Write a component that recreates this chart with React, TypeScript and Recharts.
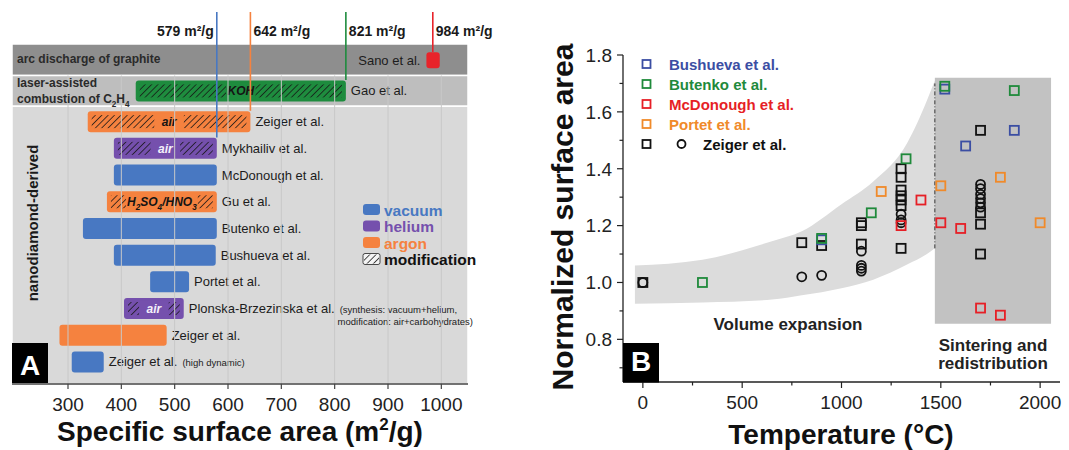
import React from 'react';
import { ComposedChart, Bar, Scatter, Area, XAxis, YAxis, ReferenceArea, ReferenceLine } from 'recharts';

const FONT = '"Liberation Sans", Arial, Helvetica, sans-serif';

// ---------- panel A: specific surface area per synthesis route ----------
const rowNames = [
  'Sano et al.',
  'Gao et al.',
  'Zeiger et al.',
  'Mykhailiv et al.',
  'McDonough et al.',
  'Gu et al.',
  'Butenko et al.',
  'Bushueva et al.',
  'Portet et al.',
  'Plonska-Brzezinska et al.',
  'Zeiger et al.',
  'Zeiger et al.',
];
const rowGroup = [0, 1, 2, 2, 2, 2, 2, 2, 2, 2, 2, 2];
const rowAtmos = ['arc', 'laser', 'argon', 'helium', 'vacuum', 'argon', 'vacuum', 'vacuum', 'vacuum', 'helium', 'argon', 'vacuum'];
const rowMin = [972, 427, 337, 386, 386, 373, 328, 386, 454, 405, 284, 307];
const rowMax = [997, 821, 642, 579, 579, 579, 579, 577, 527, 517, 485, 367];
const rowMod = ['', 'KOH', 'air', 'air', '', 'H2SO4/HNO3', '', '', '', 'air', '', ''];
const rowNote = ['', '', '', '', '', '', '', '', '', '(synthesis: vacuum+helium,|modification: air+carbohydrates)', '', '(high dynamic)'];

const groupNames = ['arc discharge of graphite', 'laser-assisted|combustion of C2H4', 'nanodiamond-derived'];

const maxValues = [579, 642, 821, 984];
const maxRows = [3, 2, 1, 0];
const maxAtmos = ['vacuum', 'argon', 'laser', 'arc'];

const areaTicks = [300, 400, 500, 600, 700, 800, 900, 1000];
const legendA = ['vacuum', 'helium', 'argon'];

// ---------- panel B: normalized surface area vs temperature ----------
const bushuevaT = [900, 1520, 1625, 1870];
const bushuevaS = [1.15, 1.68, 1.48, 1.535];
const butenkoT = [300, 900, 1150, 1325, 1520, 1870];
const butenkoS = [1.0, 1.155, 1.245, 1.435, 1.69, 1.675];
const mcdonoughT = [1300, 1400, 1500, 1600, 1700, 1800];
const mcdonoughS = [1.2, 1.29, 1.21, 1.19, 0.91, 0.885];
const portetT = [1200, 1500, 1800, 2000];
const portetS = [1.32, 1.34, 1.37, 1.21];
const zeigerSqT = [0, 800, 900, 1100, 1100, 1100, 1300, 1300, 1300, 1300, 1300, 1300, 1300, 1700, 1700, 1700, 1700];
const zeigerSqS = [1.0, 1.14, 1.13, 1.21, 1.2, 1.135, 1.4, 1.37, 1.325, 1.305, 1.29, 1.27, 1.12, 1.535, 1.245, 1.205, 1.1];
const zeigerCiT = [0, 800, 900, 1100, 1100, 1100, 1100, 1300, 1300, 1300, 1700, 1700, 1700, 1700, 1700, 1700];
const zeigerCiS = [1.0, 1.02, 1.025, 1.11, 1.06, 1.05, 1.04, 1.24, 1.22, 1.21, 1.345, 1.33, 1.31, 1.295, 1.28, 1.265];

const bandT = [-40, 300, 650, 800, 1000, 1160, 1330, 1430, 1470];
const bandLow = [0.925, 0.93, 0.94, 0.955, 0.98, 1.01, 1.063, 1.1, 1.12];
const bandHigh = [1.06, 1.08, 1.145, 1.18, 1.275, 1.355, 1.49, 1.64, 1.71];

const tempTicks = [0, 250, 500, 750, 1000, 1250, 1500, 1750, 2000];
const ssaTicks = [0.7, 0.8, 0.9, 1.0, 1.1, 1.2, 1.3, 1.4, 1.5, 1.6, 1.7, 1.8];

const atmosColor: Record<string, string> = {
  vacuum: '#4878c2',
  helium: '#7550ad',
  argon: '#f5823f',
  laser: '#1e8c3e',
  arc: '#e8232a',
};

const GROUP_GAP = 0.15;
const Y_MIN = -1.8;
const Y_MAX = 12.13;

const rows = rowNames.map((name, i) => ({
  name,
  pos: i + rowGroup[i] * GROUP_GAP,
  range: [rowMin[i], rowMax[i]],
  atmos: rowAtmos[i],
  mod: rowMod[i],
  note: rowNote[i],
}));

const bands = groupNames.map((g, gi) => {
  const members = rows.filter((r, i) => rowGroup[i] === gi);
  const first = members[0].pos;
  const last = members[members.length - 1].pos;
  const prev = gi > 0 ? rows.filter((r, i) => rowGroup[i] === gi - 1) : [];
  const next = rows.filter((r, i) => rowGroup[i] === gi + 1);
  const y1 = prev.length ? (prev[prev.length - 1].pos + first) / 2 : first - 0.6;
  const y2 = next.length ? (last + next[0].pos) / 2 : Y_MAX;
  return { y1, y2 };
});
const bandFill = ['#8e8e8e', '#bebebe', '#d9d9d9'];

const series = [
  { name: 'Bushueva et al.', color: '#3b4ea3', t: bushuevaT, s: bushuevaS, marker: 'square' },
  { name: 'Butenko et al.', color: '#1f8a3b', t: butenkoT, s: butenkoS, marker: 'square' },
  { name: 'McDonough et al.', color: '#e61f26', t: mcdonoughT, s: mcdonoughS, marker: 'square' },
  { name: 'Portet et al.', color: '#f08a2a', t: portetT, s: portetS, marker: 'square' },
  { name: 'Zeiger et al.', color: '#111111', t: zeigerSqT, s: zeigerSqS, marker: 'square' },
  { name: 'Zeiger et al.', color: '#111111', t: zeigerCiT, s: zeigerCiS, marker: 'circle' },
];
const drawOrder = [4, 5, 0, 1, 2, 3];

const bandData = bandT.map((x, i) => ({ x, band: [bandLow[i], bandHigh[i]] }));

// subscripts for chemical formulas
const chem = (s: string, size: number) => {
  const out: any[] = [];
  let sub = false;
  s.split('').forEach((ch, i) => {
    const d = /[0-9]/.test(ch);
    if (d && !sub) {
      out.push(<tspan key={i} dy={size * 0.3} fontSize={size * 0.68}>{ch}</tspan>);
      sub = true;
    } else if (d) {
      out.push(<tspan key={i} fontSize={size * 0.68}>{ch}</tspan>);
    } else if (sub) {
      out.push(<tspan key={i} dy={-size * 0.3}>{ch}</tspan>);
      sub = false;
    } else {
      out.push(<tspan key={i}>{ch}</tspan>);
    }
  });
  return out;
};

const RowShape = (props: any) => {
  const { x, y, width, height, payload } = props;
  const color = atmosColor[payload.atmos];
  const cy = y + height / 2;
  const h = payload.atmos === 'arc' ? 16 : height;
  const top = cy - h / 2;
  const cx = x + width / 2;
  const lw = payload.mod.replace(/[0-9]/g, '').length * 7.2 + payload.mod.replace(/[^0-9]/g, '').length * 4.5 + 8;
  const notes = payload.note ? payload.note.split('|') : [];
  const leftLabel = payload.atmos === 'arc';
  return (
    <g>
      <rect x={x} y={top} width={width} height={h} rx={3} fill={color} />
      {payload.mod && (
        <g>
          <rect x={x + 4} y={top + 4} width={width - 8} height={h - 8} fill="url(#hatchA)" />
          <rect x={cx - lw / 2} y={top + 2} width={lw} height={h - 4} fill={color} />
          <text x={cx} y={cy + 4.5} textAnchor="middle" fontSize={12} fontWeight="bold" fontStyle="italic"
            fill={payload.atmos === 'helium' ? '#f4f0fa' : '#141414'} fontFamily={FONT}>
            {chem(payload.mod, 12)}
          </text>
        </g>
      )}
      <text x={leftLabel ? x - 6 : x + width + 5} y={cy + 4.5} textAnchor={leftLabel ? 'end' : 'start'}
        fontSize={13} fill="#1c1c1c" fontFamily={FONT}>
        {payload.name}
        {notes[0] && <tspan dx={5} fontSize={9.5}>{notes[0]}</tspan>}
      </text>
      {notes[1] && (
        <text x={473} y={cy + 16} textAnchor="end" fontSize={9.5} fill="#1c1c1c" fontFamily={FONT}>{notes[1]}</text>
      )}
    </g>
  );
};

const MaxLabel = (props: any) => {
  const { viewBox, value, left } = props;
  const x = viewBox.x;
  const y = viewBox.y + 24;
  return (
    <text x={left ? x - 3 : x + 3} y={y} textAnchor={left ? 'end' : 'start'} fontSize={14} fontWeight="bold"
      fill="#1a1a1a" fontFamily={FONT}>
      {value + ' m²/g'}
    </text>
  );
};

const TempTick = (props: any) => {
  const { x, y, payload } = props;
  const major = payload.value % 500 === 0;
  const axisY = y - 13.5;
  return (
    <g>
      <line x1={x} x2={x} y1={axisY} y2={axisY + (major ? 6 : 3.5)} stroke="#222" strokeWidth={1.2} />
      {major && (
        <text x={x} y={axisY + 27} textAnchor="middle" fontSize={19} fill="#222" fontFamily={FONT}>{payload.value}</text>
      )}
    </g>
  );
};

const SsaTick = (props: any) => {
  const { x, y, payload } = props;
  const major = Math.round(payload.value * 10) % 2 === 0;
  const axisX = x + 11;
  return (
    <g>
      <line x1={axisX - (major ? 6 : 3.5)} x2={axisX} y1={y} y2={y} stroke="#222" strokeWidth={1.2} />
      {major && (
        <text x={axisX - 11} y={y + 6.8} textAnchor="end" fontSize={19} fill="#222" fontFamily={FONT}>
          {payload.value.toFixed(1)}
        </text>
      )}
    </g>
  );
};

const marker = (color: string, kind: string) => (p: any) =>
  kind === 'circle' ? (
    <circle cx={p.cx} cy={p.cy} r={4.5} fill="none" stroke={color} strokeWidth={1.8} />
  ) : (
    <rect x={p.cx - 4.5} y={p.cy - 4.5} width={9} height={9} fill="none" stroke={color} strokeWidth={1.8} />
  );

const PanelA = () => (
  <ComposedChart width={500} height={450} layout="vertical" data={rows} style={{ overflow: 'visible' }}
    margin={{ top: 12, right: 32, left: 12, bottom: 6 }}>
    <XAxis type="number" domain={[195, 1050]} ticks={areaTicks} height={60} tickSize={5} tickMargin={9}
      axisLine={{ stroke: '#444', strokeWidth: 1.5 }} tickLine={{ stroke: '#444', strokeWidth: 1.2 }}
      tick={{ fontSize: 19, fill: '#222', fontFamily: FONT }} />
    <YAxis type="number" dataKey="pos" domain={[Y_MIN, Y_MAX]} hide ticks={[0, 4, 8, 12]} />
    {bands.map((b, i) => (
      <ReferenceArea key={'band' + i} y1={b.y1} y2={b.y2} fill={bandFill[i]} fillOpacity={1} stroke="#ffffff" strokeWidth={1.5} />
    ))}
    {areaTicks.map((t) => (
      <ReferenceLine key={'grid' + t} segment={[{ x: t, y: bands[1].y1 }, { x: t, y: Y_MAX }]} stroke="#c8c8c8" strokeWidth={1} />
    ))}
    <Bar dataKey="range" barSize={21} isAnimationActive={false} shape={(p: any) => <RowShape {...p} />} />
    {maxValues.map((v, i) => (
      <ReferenceLine key={'max' + v} ifOverflow="visible"
        segment={[{ x: v, y: Y_MIN }, { x: v, y: rows[maxRows[i]].pos - (maxRows[i] === 0 ? 0.3 : 0.4) }]}
        stroke={atmosColor[maxAtmos[i]]} strokeWidth={1.6}
        label={(p: any) => <MaxLabel {...p} value={v} left={i === 0} />} />
    ))}
  </ComposedChart>
);

const PanelB = () => (
  <ComposedChart width={529} height={450} margin={{ top: 55, right: 9, left: 0, bottom: 8 }}>
    <XAxis type="number" dataKey="x" domain={[-100, 2100]} ticks={tempTicks} height={60} tickSize={6} tickMargin={7.5}
      axisLine={{ stroke: '#222', strokeWidth: 1.3 }} tickLine={false} tick={(p: any) => <TempTick {...p} />} allowDataOverflow />
    <YAxis type="number" dataKey="y" domain={[0.65, 1.8]} ticks={ssaTicks} width={83} tickSize={6} tickMargin={5}
      axisLine={{ stroke: '#222', strokeWidth: 1.3 }} tickLine={false} tick={(p: any) => <SsaTick {...p} />} allowDataOverflow />
    <Area data={bandData} dataKey="band" type="monotone" stroke="none" fill="#dcdcdc" fillOpacity={1}
      isAnimationActive={false} dot={false} activeDot={false} />
    <ReferenceArea x1={1470} x2={2055} y1={0.855} y2={1.72} fill="#c2c2c2" fillOpacity={1} stroke="none" />
    <ReferenceLine segment={[{ x: 1470, y: 1.12 }, { x: 1470, y: 1.7 }]} stroke="#333" strokeWidth={1}
      strokeDasharray="4 2 1 2" />
    {drawOrder.map((si) => {
      const s = series[si];
      return (
        <Scatter key={'s' + si} data={s.t.map((t, i) => ({ x: t, y: s.s[i] }))} isAnimationActive={false}
          shape={marker(s.color, s.marker)} />
      );
    })}
  </ComposedChart>
);

const Overlay = () => (
  <svg width={1069} height={450} style={{ position: 'absolute', left: 0, top: 0, pointerEvents: 'none' }}
    fontFamily={FONT}>
    <defs>
      <pattern id="hatchA" width={4.5} height={4.5} patternUnits="userSpaceOnUse" patternTransform="rotate(45)">
        <line x1={0} y1={0} x2={0} y2={4.5} stroke="#151515" strokeWidth={1.5} />
      </pattern>
    </defs>

    {/* panel A group names */}
    <text x={17} y={63} fontSize={12} fontWeight="bold" fill="#2a2a2a">{groupNames[0]}</text>
    <text x={17} y={87} fontSize={12} fontWeight="bold" fill="#2a2a2a">{groupNames[1].split('|')[0]}</text>
    <text x={17} y={103} fontSize={12} fontWeight="bold" fill="#2a2a2a">{chem(groupNames[1].split('|')[1], 12)}</text>
    <text x={38} y={223} fontSize={15} fontWeight="bold" fill="#1a1a1a" textAnchor="middle"
      transform="rotate(-90 38 223)">{groupNames[2]}</text>

    {/* panel A legend */}
    {legendA.map((k, i) => (
      <g key={k}>
        <rect x={363} y={204 + i * 16.5} width={17} height={11} rx={3} fill={atmosColor[k]} />
        <text x={384} y={215.5 + i * 16.5} fontSize={15.5} fontWeight="bold" fill={atmosColor[k]}>{k}</text>
      </g>
    ))}
    <rect x={363} y={253.5} width={17} height={11} rx={2} fill="#f4f4f4" stroke="#222" strokeWidth={0.8} />
    <rect x={364} y={254.5} width={15} height={9} fill="url(#hatchA)" />
    <text x={384} y={265} fontSize={15.5} fontWeight="bold" fill="#111">modification</text>

    <rect x={12} y={343} width={36} height={40} fill="#000" />
    <text x={30} y={375} fontSize={28} fontWeight="bold" fill="#fff" textAnchor="middle">A</text>
    <text x={240} y={441} fontSize={28} fontWeight="bold" fill="#111" textAnchor="middle">
      Specific surface area (m<tspan dy={-11} fontSize={17}>2</tspan><tspan dy={11}>/g)</tspan>
    </text>

    {/* panel B */}
    <text x={573} y={217} fontSize={30} fontWeight="bold" fill="#111" textAnchor="middle"
      transform="rotate(-90 573 217)">Normalized surface area</text>
    <text x={841} y={444} fontSize={28} fontWeight="bold" fill="#111" textAnchor="middle">Temperature (°C)</text>
    {series.slice(0, 5).map((s, i) => (
      <g key={'lg' + i}>
        <rect x={642.5} y={60 + i * 20} width={8} height={8} fill="none" stroke={s.color} strokeWidth={1.8} />
        {i === 4 && <circle cx={681.5} cy={144} r={4} fill="none" stroke={s.color} strokeWidth={1.8} />}
        <text x={i === 4 ? 703 : 669} y={69.5 + i * 20} fontSize={15} fontWeight="bold" fill={s.color}>{s.name}</text>
      </g>
    ))}
    <text x={788} y={330} fontSize={17} fontWeight="bold" fill="#222" textAnchor="middle">Volume expansion</text>
    <text x={993} y={351} fontSize={17} fontWeight="bold" fill="#222" textAnchor="middle">Sintering and</text>
    <text x={993} y={369} fontSize={17} fontWeight="bold" fill="#222" textAnchor="middle">redistribution</text>
    <rect x={623} y={343} width={36} height={39.5} fill="#000" />
    <text x={641} y={371} fontSize={28} fontWeight="bold" fill="#fff" textAnchor="middle">B</text>
  </svg>
);

export default function App() {
  return (
    <div style={{ position: 'absolute', left: 0, top: 0, width: 1069, height: 450, background: '#fff', fontFamily: FONT }}>
      <div style={{ position: 'absolute', left: 0, top: 0 }}>
        <PanelA />
      </div>
      <div style={{ position: 'absolute', left: 540, top: 0 }}>
        <PanelB />
      </div>
      <Overlay />
    </div>
  );
}
